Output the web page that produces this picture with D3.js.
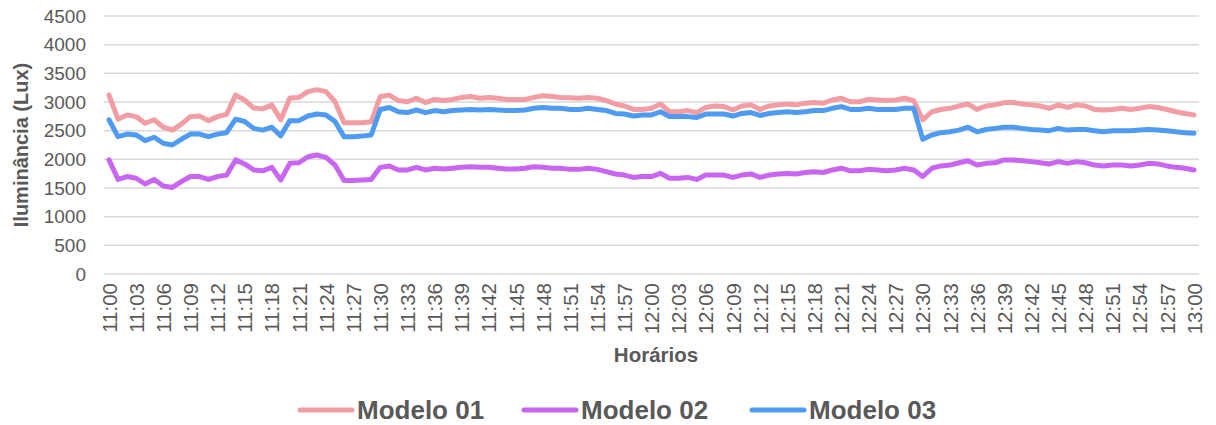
<!DOCTYPE html>
<html>
<head>
<meta charset="utf-8">
<script src="https://cdn.jsdelivr.net/npm/d3@7"></script>
<style>
  html, body { margin: 0; padding: 0; background: #fff; }
  svg text { font-family: "Liberation Sans", Arial, sans-serif; fill: #595959; }
</style>
</head>
<body>
<svg id="chart" width="1216" height="425"></svg>
<script>
// Minute-by-minute illuminance readings, 11:00 to 13:00
const modelo01 = [
  3120, 2700, 2775, 2745, 2630, 2690, 2560, 2510, 2615, 2745,
  2755, 2675, 2745, 2785, 3120, 3035, 2895, 2880, 2950, 2690,
  3070, 3080, 3180, 3215, 3180, 3005, 2640, 2640, 2640, 2655,
  3095, 3120, 3025, 3005, 3065, 2990, 3045, 3025, 3045, 3080,
  3095, 3065, 3080, 3065, 3045, 3045, 3045, 3080, 3110, 3095,
  3080, 3075, 3065, 3080, 3065, 3025, 2965, 2930, 2870, 2870,
  2890, 2965, 2830, 2830, 2850, 2815, 2905, 2930, 2920, 2860,
  2930, 2950, 2870, 2930, 2950, 2965, 2950, 2980, 2990, 2980,
  3035, 3065, 3005, 3005, 3045, 3035, 3025, 3035, 3065, 3025,
  2690, 2830, 2870, 2890, 2930, 2965, 2870, 2930, 2950, 2990,
  2990, 2965, 2950, 2930, 2890, 2950, 2905, 2950, 2930, 2870,
  2860, 2870, 2890, 2870, 2890, 2920, 2905, 2870, 2830, 2800,
  2775
];

const modelo02 = [
  1990, 1650, 1700, 1670, 1570, 1650, 1535, 1510, 1610, 1700,
  1700, 1650, 1700, 1725, 1990, 1920, 1815, 1800, 1860, 1640,
  1930, 1940, 2045, 2075, 2035, 1900, 1630, 1630, 1640, 1650,
  1860, 1885, 1815, 1815, 1860, 1815, 1845, 1830, 1845, 1860,
  1870, 1860, 1860, 1845, 1830, 1830, 1845, 1870, 1860, 1845,
  1845, 1825, 1825, 1845, 1825, 1785, 1745, 1725, 1685, 1700,
  1700, 1755, 1670, 1670, 1685, 1650, 1725, 1725, 1725, 1685,
  1725, 1745, 1685, 1725, 1745, 1755, 1745, 1770, 1785, 1770,
  1815, 1845, 1800, 1800, 1825, 1815, 1800, 1815, 1845, 1815,
  1700, 1845, 1885, 1900, 1940, 1975, 1900, 1930, 1940, 1990,
  1990, 1975, 1960, 1940, 1920, 1960, 1930, 1960, 1940, 1900,
  1885, 1900, 1900, 1885, 1900, 1930, 1920, 1885, 1860, 1845,
  1815
];

const modelo03 = [
  2690, 2395, 2440, 2425, 2325, 2385, 2280, 2250, 2350, 2440,
  2440, 2395, 2440, 2465, 2700, 2660, 2540, 2510, 2560, 2410,
  2675, 2675, 2755, 2790, 2775, 2660, 2395, 2395, 2405, 2425,
  2870, 2905, 2830, 2815, 2860, 2815, 2850, 2830, 2850, 2860,
  2870, 2860, 2870, 2860, 2850, 2850, 2860, 2890, 2905, 2890,
  2890, 2870, 2870, 2890, 2870, 2850, 2800, 2790, 2755, 2775,
  2775, 2830, 2745, 2745, 2745, 2730, 2790, 2790, 2790, 2755,
  2800, 2815, 2765, 2800, 2815, 2830, 2815, 2830, 2850, 2850,
  2890, 2920, 2870, 2870, 2890, 2870, 2870, 2870, 2890, 2890,
  2350, 2425, 2465, 2480, 2510, 2560, 2480, 2520, 2540, 2560,
  2560, 2540, 2520, 2510, 2500, 2540, 2510, 2520, 2520, 2500,
  2480, 2500, 2500, 2500, 2510, 2520, 2510, 2500, 2480, 2465,
  2455
];

// Category labels: one per minute; every third one is shown on the axis
const horarios = d3.range(0, 121).map(m => {
  const h = 11 + Math.floor(m / 60), mm = m % 60;
  return h + ":" + String(mm).padStart(2, "0");
});
const yTicks = [0, 500, 1000, 1500, 2000, 2500, 3000, 3500, 4000, 4500];

const seriesNames = ["Modelo 01", "Modelo 02", "Modelo 03"];
const seriesColors = ["#F19DA3", "#C966F1", "#4F9BF1"];
const series = [modelo01, modelo02, modelo03];

const svg = d3.select("#chart");

const x = d3.scalePoint().domain(horarios).range([109, 1194]).padding(0);
const y = d3.scaleLinear().domain([0, 4500]).range([274, 16]);

// Horizontal gridlines
svg.append("g")
  .selectAll("line")
  .data(yTicks)
  .join("line")
  .attr("x1", 104).attr("x2", 1199)
  .attr("y1", d => y(d)).attr("y2", d => y(d))
  .attr("stroke", "#D9D9D9").attr("stroke-width", 1.5);

// Y axis labels
const yAxis = svg.append("g")
  .attr("transform", "translate(96,0)")
  .call(d3.axisLeft(y).tickValues(yTicks).tickSize(0).tickPadding(10).tickFormat(d3.format("d")));
yAxis.select(".domain").remove();
yAxis.selectAll("text")
  .style("font-size", "19px")
  .attr("fill", "#595959");

// X axis labels (rotated)
const xAxis = svg.append("g")
  .attr("transform", "translate(0,274)")
  .call(d3.axisBottom(x).tickValues(horarios.filter((d, i) => i % 3 === 0)).tickSize(0));
xAxis.select(".domain").remove();
xAxis.selectAll("text")
  .style("font-size", "20.5px")
  .attr("fill", "#595959")
  .attr("transform", "rotate(-90)")
  .attr("text-anchor", "end")
  .attr("dx", "-9px")
  .attr("dy", "0.35em")
  .attr("y", 0);

// Axis titles
svg.append("text")
  .attr("transform", "translate(28,145) rotate(-90)")
  .attr("text-anchor", "middle")
  .style("font-size", "20px").style("font-weight", "bold")
  .text("Iluminância (Lux)");

svg.append("text")
  .attr("x", 656).attr("y", 362)
  .attr("text-anchor", "middle")
  .style("font-size", "20.5px").style("font-weight", "bold")
  .text("Horários");

// Series lines
const line = d3.line()
  .x((d, i) => x(horarios[i]))
  .y(d => y(d));

svg.append("g")
  .selectAll("path")
  .data(series)
  .join("path")
  .attr("d", line)
  .attr("fill", "none")
  .attr("stroke", (d, i) => seriesColors[i])
  .attr("stroke-width", 5)
  .attr("stroke-linejoin", "round")
  .attr("stroke-linecap", "round");

// Legend
const legendX = [300, 524, 752];
const legend = svg.append("g")
  .selectAll("g")
  .data(seriesNames)
  .join("g")
  .attr("transform", (d, i) => `translate(${legendX[i]},410)`);
legend.append("line")
  .attr("x1", 0).attr("x2", 52).attr("y1", 0).attr("y2", 0)
  .attr("stroke", (d, i) => seriesColors[i])
  .attr("stroke-width", 5).attr("stroke-linecap", "round");
legend.append("text")
  .attr("x", 57).attr("y", 9)
  .style("font-size", "26px").style("font-weight", "bold")
  .text(d => d);
</script>
</body>
</html>
